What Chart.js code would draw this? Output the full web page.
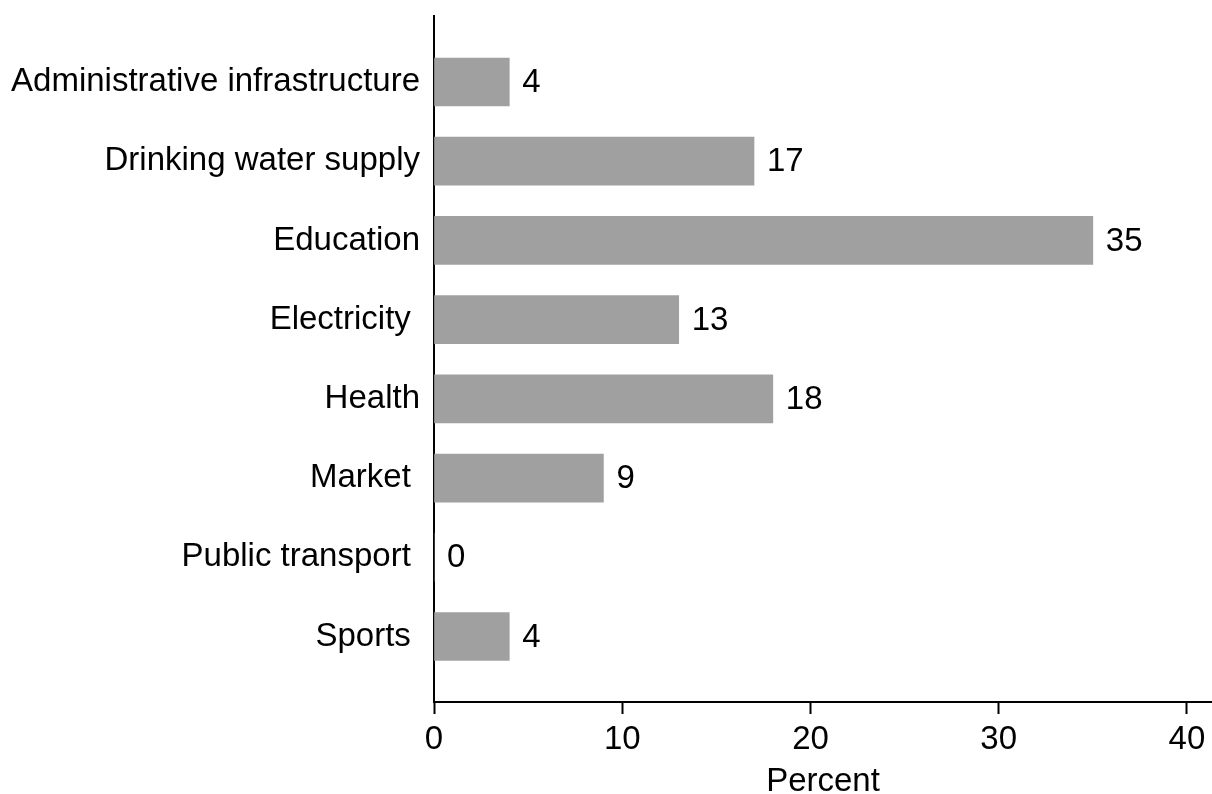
<!DOCTYPE html>
<html>
<head>
<meta charset="utf-8">
<script src="https://cdn.jsdelivr.net/npm/chart.js@4"></script>
<style>
  html, body { margin: 0; padding: 0; background: #fff; }
</style>
</head>
<body>
<canvas id="meuChart" width="1212" height="794"></canvas>
<script>
// categories (trailing spaces kept as in the original labels)
const categories = [
    "Administrative infrastructure",
    "Drinking water supply",
    "Education",
    "Electricity ",
    "Health",
    "Market ",
    "Public transport ",
    "Sports "
];
const percentValues = [4, 17, 35, 13, 18, 9, 0, 4];
const percentTicks = [0, 10, 20, 30, 40];

const fonte = '"Liberation Sans", Arial, Helvetica, sans-serif';
Chart.defaults.font.family = fonte;
Chart.defaults.font.size = 33;
Chart.defaults.color = "#000";

// value labels to the right of each bar
const rotulos = {
    id: "rotulos",
    afterDatasetsDraw(chart) {
        const ctx = chart.ctx;
        const meta = chart.getDatasetMeta(0);
        ctx.save();
        ctx.font = "33px " + fonte;
        ctx.fillStyle = "#000";
        ctx.textAlign = "left";
        ctx.textBaseline = "middle";
        meta.data.forEach((bar, i) => {
            ctx.fillText(String(percentValues[i]), bar.x + 13, bar.y + 1);
        });
        ctx.restore();
    }
};

new Chart(document.getElementById("meuChart"), {
    type: "bar",
    data: {
        datasets: [
            {
                label: "Percent",
                data: percentValues.map((v, i) => ({ x: v, y: i })),
                backgroundColor: "#a0a0a0",
                borderWidth: 0,
                barThickness: 48,
            },
        ],
    },
    options: {
        indexAxis: "y",
        responsive: false,
        animation: false,
        layout: { padding: { top: 16, right: 0, left: 0, bottom: 0 } },
        plugins: {
            legend: { display: false },
            tooltip: { enabled: false },
        },
        scales: {
            y: {
                type: "linear",
                reverse: true,
                offset: false,
                min: -0.833,
                max: 7.827,
                afterBuildTicks: (scale) => {
                    scale.ticks = categories.map((c, i) => ({ value: i }));
                },
                afterFit: (scale) => {
                    scale.width = 434;
                    scale.paddingTop = 0;
                    scale.paddingBottom = 0;
                },
                ticks: {
                    callback: (v) => categories[v],
                    padding: 14,
                    font: { size: 33 },
                },
                grid: { display: false, drawTicks: false, offset: false },
                border: { display: true, color: "#000", width: 2 },
            },
            x: {
                type: "linear",
                min: 0,
                max: 41.33,
                afterBuildTicks: (scale) => {
                    scale.ticks = percentTicks.map((v) => ({ value: v }));
                },
                afterFit: (scale) => {
                    scale.height = 92;
                    scale.paddingRight = 0;
                },
                ticks: { padding: 6, font: { size: 33 } },
                grid: {
                    drawOnChartArea: false,
                    drawTicks: true,
                    tickLength: 12,
                    tickWidth: 2,
                    tickColor: "#000",
                },
                border: { display: true, color: "#000", width: 2 },
                title: {
                    display: true,
                    text: "Percent",
                    font: { size: 33 },
                    padding: { top: 0, bottom: -8 },
                },
            },
        },
    },
    plugins: [rotulos],
});
</script>
</body>
</html>
